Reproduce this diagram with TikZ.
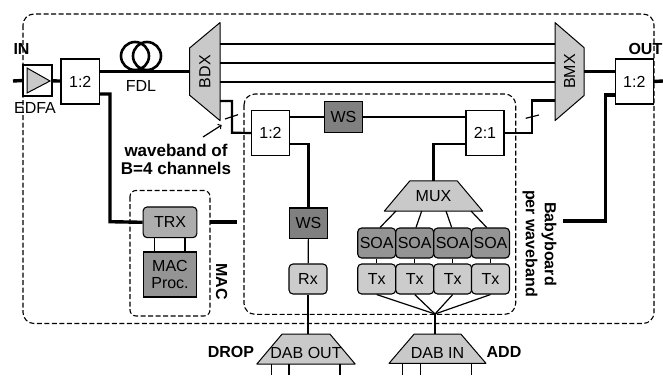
\documentclass[tikz,border=0pt]{standalone}
\usepackage{fontspec}
\setmainfont{Liberation Sans}
\usetikzlibrary{calc}
\definecolor{TrapClr}{gray}{0.79}
\definecolor{DarkClr}{gray}{0.5}
\definecolor{MidClr}{gray}{0.58}
\definecolor{TrxClr}{gray}{0.68}
\definecolor{TxClr}{gray}{0.8}

\tikzset{
  txt/.style={font=\fontsize{16}{18}\selectfont,inner sep=0pt},
  bold/.style={font=\fontsize{16}{18}\selectfont\bfseries,inner sep=0pt},
  box/.style={draw,line width=1.1pt,fill=white,inner sep=0pt,font=\fontsize{16}{18}\selectfont,align=center},
  rbox/.style={box,rounded corners=4pt},
  trap/.style={draw,line width=1pt,fill=TrapClr,line join=round},
  port/.style={inner sep=0pt,outer sep=0pt},
  fat/.style={line width=3.4pt},
  mid/.style={line width=2.2pt},
  thin1/.style={line width=1.2pt},
  dash1/.style={line width=1.1pt,dash pattern=on 5pt off 2.5pt,rounded corners=11pt},
}
% name, cx, cy, top width, bottom width, height, label, label shift
\newcommand{\htrap}[8]{
  \draw[trap] ({#2-#4/2},{#3-#6/2}) -- ({#2+#4/2},{#3-#6/2}) -- ({#2+#5/2},{#3+#6/2}) -- ({#2-#5/2},{#3+#6/2}) -- cycle;
  \node[port,minimum width=#5pt,minimum height=#6pt] (#1) at (#2,#3) {};
  \node[txt] (#1T) at (#2,#3+#8) {#7};
}
% name, cx, cy, left height, right height, width, label
\newcommand{\vtrap}[7]{
  \draw[trap] ({#2-#6/2},{#3-#4/2}) -- ({#2+#6/2},{#3-#5/2}) -- ({#2+#6/2},{#3+#5/2}) -- ({#2-#6/2},{#3+#4/2}) -- cycle;
  \node[port,minimum width=#6pt,minimum height=98pt] (#1) at (#2,#3) {};
  \node[txt,rotate=90] (#1T) at (#2,#3) {#7};
}

\begin{document}
\begin{tikzpicture}[x=1pt,y=-1pt]
\useasboundingbox (0,0) rectangle (663,375);

% Frames.
\draw[dash1] (23,14) rectangle (654,323.5);
\draw[dash1] (244,94) rectangle (515.7,314.3);
\draw[dash1,rounded corners=6pt] (130,190.5) rectangle (210,316);

% Blocks.
\node[box,minimum width=29pt,minimum height=31pt] (EDFA) at (37.5,80.5) {};
\node[box,minimum width=38.5pt,minimum height=45pt] (splitIn) at (80.25,81.5) {1:2};
\node[box,minimum width=37.5pt,minimum height=45pt] (splitOut) at (634.3,81.5) {1:2};
\node[box,minimum width=37.5pt,minimum height=45.7pt] (split) at (270.5,133) {1:2};
\node[box,minimum width=38pt,minimum height=45.7pt] (comb) at (485,133) {2:1};
\node[box,fill=DarkClr,minimum width=38.4pt,minimum height=30.3pt] (WSa) at (343.5,117) {WS};
\node[box,fill=DarkClr,minimum width=38.4pt,minimum height=30.7pt] (WSb) at (308.5,223.3) {WS};
\node[rbox,fill=TxClr,minimum width=38pt,minimum height=30pt] (Rx) at (308,279) {Rx};
\node[rbox,fill=TrxClr,minimum width=53.7pt,minimum height=30.7pt] (TRX) at (170,222.3) {TRX};
\node[box,fill=MidClr,minimum width=53.7pt,minimum height=45pt] (MACp) at (170,274.5) {MAC\\[-1pt]Proc.};

\vtrap{BDX}{204.75}{71.6}{47}{98}{30.5}{BDX}
\vtrap{BMX}{569.5}{71.6}{98}{48}{29}{BMX}
\htrap{MUX}{433.5}{196}{47.3}{98.4}{30.3}{MUX}{0.5}
\htrap{DABout}{306}{349}{47.7}{98.3}{30}{DAB OUT}{4}
\htrap{DABin}{437.5}{348.7}{46.7}{97}{29.3}{DAB IN}{4}

\foreach \i/\x in {1/376.7,2/414.7,3/452.7,4/490.5}{
  \node[rbox,fill=MidClr,minimum width=38pt,minimum height=30pt] (SOA\i) at (\x,243) {SOA};
  \node[rbox,fill=TxClr,minimum width=38pt,minimum height=30pt] (Tx\i) at (\x,279) {Tx};
  \draw[thin1] (SOA\i) -- (Tx\i);
}

% Amplifier and fibre coils.
\draw[line width=1pt,fill=TrapClr] (27,68) -- (50,81) -- (27,93) -- cycle;
\draw[line width=2.6pt] (135,56) ellipse (14pt and 14pt);
\draw[line width=2.6pt] (147,56) ellipse (14pt and 14pt);

% Main path.
\coordinate (inEnd) at (13,81);
\coordinate (outEnd) at (663,81);
\draw[fat] (inEnd) -- (EDFA.west);
\draw[fat] (EDFA) -- (splitIn);
\draw[fat] (splitIn.east |- BDX) -- (BDX.west);
\draw[fat] (BMX.east) -- (splitOut.west |- BMX);
\draw[fat] (splitOut.east) -- (outEnd);
\foreach \y in {44,63,82}
  \draw[mid] (BDX.east |- 0,\y) -- (BMX.west |- 0,\y);

% Drop and add.
\draw[mid] (BDX.east |- 0,101) -- (232,101) -- (232,132.7) -- (split.west);
\draw[mid] (split.east |- WSa) -- (WSa);
\draw[mid] (WSa) -- (comb.west |- WSa);
\draw[mid] (split.east |- 0,144) -- (WSb.north |- 0,144) -- (WSb.north);
\draw[mid] (comb.west |- 0,144) -- (MUX.north |- 0,144) -- (MUX.north);
\draw[mid] (comb.east) -- (531.7,133) -- (531.7,100.5) -- (BMX.west |- 0,100.5);
\draw[thin1] (225,119) -- (238,114.7);
\draw[thin1] (525.7,118.3) -- (539,115);
\draw[thin1] (WSb) -- (Rx);
\draw[thin1] (Rx) -- (Rx |- DABout.north);

% Tx and SOA fans.
\coordinate (join) at (435,314);
\foreach \i in {1,2,3,4}
  \draw[thin1] (Tx\i.south) -- (join);
\draw[thin1] (join) -- (join |- DABin.north);
\draw[thin1] (396,211) -- (380,227.5);
\draw[thin1] (421.7,211) -- (416,227.5);
\draw[thin1] (446,211) -- (451.7,227.5);
\draw[thin1] (471,211) -- (486.7,227.5);
\foreach \x in {271.7,289,340,402.7,420.3,471.3}
  \draw[thin1] (\x,364) -- (\x,375);

% MAC and return lines.
\draw[fat] (splitIn.east |- 0,94) -- (110,94) -- (110,221.7) -- (TRX.west);
\draw[fat] (210,222) -- (236.7,222);
\draw[fat] (splitOut.west |- 0,95) -- (605.5,95) -- (605.5,221) -- (563,221);
\draw[thin1] (154.7,237.7) -- (154.7,252);
\draw[thin1] (185,237.7) -- (185,252);

\draw[thin1,->,>=to] (203,137) -- (221.7,125);

% Texts.
\node[bold] (inT) at (21.5,49) {IN};
\node[bold,anchor=east] (outT) at (662.5,49) {OUT};
\node[txt] (edfaT) at (35,108) {EDFA};
\node[txt] (fdlT) at (141,86) {FDL};
\node[bold,font=\fontsize{17}{18}\selectfont\bfseries] (wbT) at (176,150) {waveband of};
\node[bold,font=\fontsize{17}{18}\selectfont\bfseries] (chT) at (176,168) {B=4 channels};
\node[bold,rotate=-90] (macT) at (221.7,281.7) {MAC};
\node[bold,rotate=-90] (bbT) at (549,244) {Babyboard};
\node[bold,rotate=-90] (pwT) at (530,243.5) {per waveband};
\node[bold] (dropT) at (231,352) {DROP};
\node[bold] (addT) at (504,352) {ADD};

\end{tikzpicture}
\end{document}
